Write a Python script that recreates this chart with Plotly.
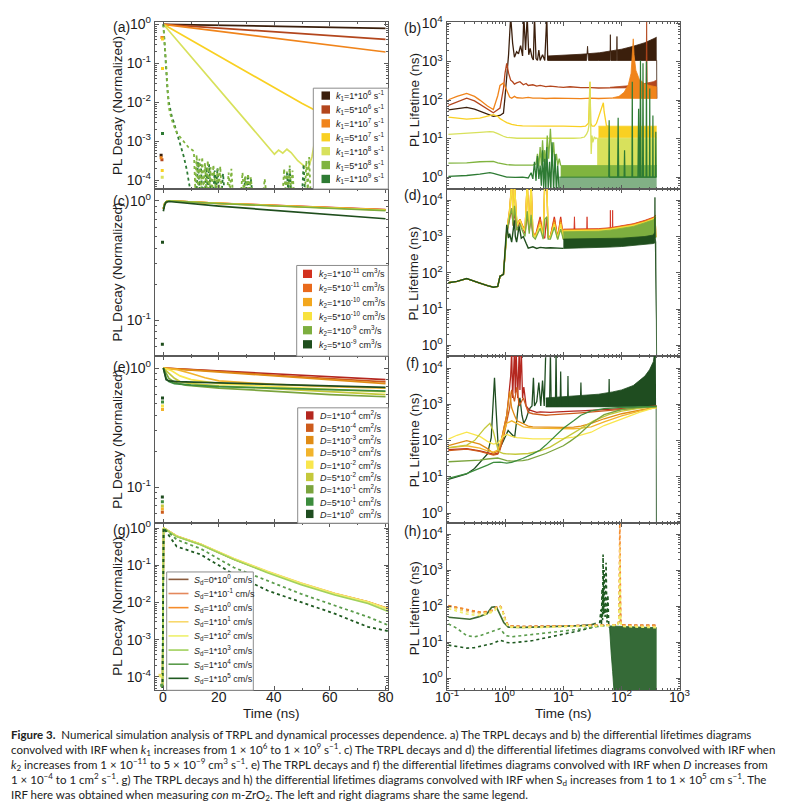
import math
import plotly.graph_objects as go

# Reference-picture coordinates are used for layout; the page body has an 8 px margin,
# so the figure is 788x796 and every position is shifted by that margin.
PAGE_W, PAGE_H = 804, 812
OFF = 8
FIG_W, FIG_H = PAGE_W - 2 * OFF, PAGE_H - 2 * OFF
FONT = "Liberation Sans, Arial, sans-serif"
CAPTION_FONT = "Lato, Liberation Sans, sans-serif"
AXIS_COLOR = "#5a5a5a"
TEXT_COLOR = "#1b1b1b"

# ---------------- tick labels ----------------
X_LEFT_TICKS = [0, 20, 40, 60, 80]
X_LEFT_TICKTEXT = ["0", "20", "40", "60", "80"]
X_RIGHT_TICKS = [0.1, 1, 10, 100, 1000]
X_RIGHT_TICKTEXT = ["10<sup>-1</sup>", "10<sup>0</sup>", "10<sup>1</sup>", "10<sup>2</sup>", "10<sup>3</sup>"]
Y_WIDE_TICKS = [1e-4, 1e-3, 1e-2, 1e-1, 1]
Y_WIDE_TICKTEXT = ["10<sup>-4</sup>", "10<sup>-3</sup>", "10<sup>-2</sup>", "10<sup>-1</sup>", "10<sup>0</sup>"]
Y_NARROW_TICKS = [0.1, 1]
Y_NARROW_TICKTEXT = ["10<sup>-1</sup>", "10<sup>0</sup>"]
Y_LIFE_TICKS = [1, 10, 100, 1000, 10000]
Y_LIFE_TICKTEXT = ["10<sup>0</sup>", "10<sup>1</sup>", "10<sup>2</sup>", "10<sup>3</sup>", "10<sup>4</sup>"]

PANEL_LABELS = ["(a)", "(b)", "(c)", "(d)", "(e)", "(f)", "(g)", "(h)"]
LEFT_TITLE = "PL Decay (Normalized)"
RIGHT_TITLE = "PL Lifetime (ns)"
X_TITLE = "Time (ns)"

# ---------------- legends ----------------
A_LABELS = ["<i>k</i><sub>1</sub>=1*10<sup>6</sup> s<sup>-1</sup>", "<i>k</i><sub>1</sub>=5*10<sup>6</sup> s<sup>-1</sup>",
            "<i>k</i><sub>1</sub>=1*10<sup>7</sup> s<sup>-1</sup>", "<i>k</i><sub>1</sub>=5*10<sup>7</sup> s<sup>-1</sup>",
            "<i>k</i><sub>1</sub>=1*10<sup>8</sup> s<sup>-1</sup>", "<i>k</i><sub>1</sub>=5*10<sup>8</sup> s<sup>-1</sup>",
            "<i>k</i><sub>1</sub>=1*10<sup>9</sup> s<sup>-1</sup>"]
A_COLORS = ["#3b1f0c", "#b3461d", "#f0841b", "#f9d022", "#d8e15c", "#80b43f", "#2e7b34"]
C_LABELS = ["<i>k</i><sub>2</sub>=1*10<sup>-11</sup> cm<sup>3</sup>/s", "<i>k</i><sub>2</sub>=5*10<sup>-11</sup> cm<sup>3</sup>/s",
            "<i>k</i><sub>2</sub>=1*10<sup>-10</sup> cm<sup>3</sup>/s", "<i>k</i><sub>2</sub>=5*10<sup>-10</sup> cm<sup>3</sup>/s",
            "<i>k</i><sub>2</sub>=1*10<sup>-9</sup> cm<sup>3</sup>/s", "<i>k</i><sub>2</sub>=5*10<sup>-9</sup> cm<sup>3</sup>/s"]
C_COLORS = ["#d3311f", "#e96a1c", "#f3a71d", "#f8e23e", "#7dae3f", "#1f4e1d"]
E_LABELS = ["<i>D</i>=1*10<sup>-4</sup> cm<sup>2</sup>/s", "<i>D</i>=5*10<sup>-4</sup> cm<sup>2</sup>/s",
            "<i>D</i>=1*10<sup>-3</sup> cm<sup>2</sup>/s", "<i>D</i>=5*10<sup>-3</sup> cm<sup>2</sup>/s",
            "<i>D</i>=1*10<sup>-2</sup> cm<sup>2</sup>/s", "<i>D</i>=5*10<sup>-2</sup> cm<sup>2</sup>/s",
            "<i>D</i>=1*10<sup>-1</sup> cm<sup>2</sup>/s", "<i>D</i>=5*10<sup>-1</sup> cm<sup>2</sup>/s",
            "<i>D</i>=1*10<sup>0</sup>  cm<sup>2</sup>/s"]
E_COLORS = ["#b4271f", "#cd5b1c", "#e08c15", "#f2b42c", "#f9e64d", "#c4c83b", "#7ba43d", "#3c8c3d", "#1f4d20"]
G_LABELS = ["<i>S</i><sub>d</sub>=0*10<sup>0</sup> cm/s", "<i>S</i><sub>d</sub>=1*10<sup>-1</sup> cm/s",
            "<i>S</i><sub>d</sub>=1*10<sup>0</sup> cm/s", "<i>S</i><sub>d</sub>=1*10<sup>1</sup> cm/s",
            "<i>S</i><sub>d</sub>=1*10<sup>2</sup> cm/s", "<i>S</i><sub>d</sub>=1*10<sup>3</sup> cm/s",
            "<i>S</i><sub>d</sub>=1*10<sup>4</sup> cm/s", "<i>S</i><sub>d</sub>=1*10<sup>5</sup> cm/s"]
G_COLORS = ["#8b5b3d", "#e4885c", "#f58c2b", "#f8d86b", "#eef06c", "#a1d15c", "#5b9c4c", "#1f5a21"]
H_SOLID_COLOR = "#3e6a33"

# ---------------- panel (a) : TRPL vs k1 ----------------
A_T_0 = [0, 20, 40, 60, 80]
A_Y_0 = [1.0, 0.944, 0.89, 0.84, 0.79]
A_T_1 = [0, 20, 40, 60, 80]
A_Y_1 = [1.0, 0.80, 0.64, 0.51, 0.41]
A_T_2 = [0, 20, 40, 60, 80]
A_Y_2 = [1.0, 0.66, 0.44, 0.29, 0.195]
A_T_3 = [0, 10, 20, 30, 40, 50, 60, 70, 80]
A_Y_3 = [1.0, 0.39, 0.151, 0.059, 0.0234, 0.0093, 0.004, 0.002, 0.00112]
A_T_4 = [0, 10, 20, 30, 40, 41.5, 43, 44.5, 46, 48.4, 52, 53.5, 54.5]
A_Y_4 = [1.0, 0.148, 0.0219, 0.00316, 4.7e-4, 6.0e-4, 5.0e-4, 6.3e-4, 5.2e-4, 3.2e-4, 1.95e-4, 4.0e-4, 1.02e-3]
A_T_5 = [0, 0.5, 1.0, 1.5, 1.9, 2.5, 3.5, 5, 7.4, 9, 11,
         11.5, 12, 12.5, 13, 13.5, 14, 14.5, 15, 15.5, 16,
         16.5, 17, 17.5, 18, 19, 19.5, 20, 20.5, 21, 22,
         23, 23.5, 24, 24.5, 25, 27, 28, 28.5, 29, 29.5,
         30, 30.5, 31, 31.5, 32, 33, 35, 36, 36.5, 37,
         40, 43, 43.5, 44, 44.5, 45, 45.5, 46, 46.5, 47,
         48, 49, 50, 51, 51.5, 52, 52.5, 53, 54]
A_Y_5 = [1.0, 0.4, 0.1, 0.025, 0.0079, 0.005, 0.0028, 0.0016, 0.001, 7.1e-4, 5.6e-4,
         6e-5, 4.5e-4, 6e-5, 3.6e-4, 6e-5, 4e-4, 5e-5, 2.8e-4, 5e-5, 3.2e-4,
         5e-5, 2.2e-4, 5e-5, 2.5e-4, 5e-5, 2.0e-4, 5e-5, 2.3e-4, 5e-5, 5e-5,
         5e-5, 1.6e-4, 5e-5, 2.0e-4, 5e-5, 5e-5, 5e-5, 1.6e-4, 5e-5, 1.3e-4,
         5e-5, 1.5e-4, 5e-5, 1.2e-4, 5e-5, 5e-5, 5e-5, 5e-5, 1.1e-4, 5e-5,
         5e-5, 5e-5, 2.0e-4, 5e-5, 1.7e-4, 5e-5, 2.4e-4, 5e-5, 1.8e-4, 5e-5,
         5e-5, 5e-5, 5e-5, 5e-5, 3.2e-4, 5e-5, 4e-4, 5e-5, 5e-5]
A_T_6 = [0, 0.5, 1, 1.5, 2, 2.5, 3, 3.7, 5, 6, 7.4, 8.5, 9.8,
         12, 12.5, 13, 13.5, 14, 15, 15.5, 16, 16.5, 17,
         18, 18.5, 19, 19.5, 20, 21, 21.5, 22, 25, 29,
         29.5, 30, 30.5, 31, 31.5, 32, 34, 38, 44, 44.5,
         45, 45.5, 46, 47, 48, 50, 50.5, 51, 52]
A_Y_6 = [1.0, 0.25, 0.063, 0.02, 0.01, 0.0063, 0.0045, 0.0032, 0.0016, 8.9e-4, 4e-4, 1.8e-4, 5e-5,
         5e-5, 3.0e-4, 5e-5, 2.6e-4, 5e-5, 5e-5, 2.2e-4, 5e-5, 2.6e-4, 5e-5,
         5e-5, 1.8e-4, 5e-5, 2.1e-4, 5e-5, 5e-5, 1.5e-4, 5e-5, 5e-5, 5e-5,
         1.2e-4, 5e-5, 1.4e-4, 5e-5, 1.1e-4, 5e-5, 5e-5, 5e-5, 5e-5, 1.6e-4,
         5e-5, 2.0e-4, 5e-5, 5e-5, 5e-5, 5e-5, 2.6e-4, 5e-5, 5e-5]
A_PRE_T = [-0.8, -0.5, -0.8, -0.5, -0.3, -0.3, -0.4, -0.4, -0.3]
A_PRE_Y = [4.4e-4, 3.4e-4, 3.8e-4, 0.46, 0.42, 0.074, 1.8e-4, 1.2e-4, 1.6e-3]
A_PRE_C = [0, 1, 2, 2, 3, 3, 3, 4, 6]

# ---------------- panel (b) : lifetime vs k1 ----------------
B_X_0 = [0.107, 0.15, 0.22, 0.3, 0.37, 0.5, 0.63, 0.82, 0.94, 1.0, 1.07, 1.15, 1.25, 1.35, 1.45, 1.58, 1.7, 1.85,
         2.0, 2.1, 2.25, 2.4, 2.55, 2.7, 2.9, 3.06, 3.2, 3.4, 3.6, 3.8, 4.0, 4.4, 4.8, 5.0, 5.2, 5.4]
B_Y_0 = [56, 60, 65, 58, 52, 44, 38, 40, 46, 120, 400, 1500, 15000, 3000, 1300, 1800, 1600, 2600,
         1400, 15000, 2000, 15000, 1500, 2200, 1300, 1100, 15000, 1200, 1070, 2000, 1070, 1500, 1070, 15000, 15000, 1070]
B_XL_0 = [5.4, 20, 25, 26, 27, 40, 63, 64, 65, 82, 83, 84, 200, 398, 400]
B_YL_0 = [1070, 1070, 1070, 2500, 1070, 1070, 1070, 5000, 1070, 1070, 4500, 1070, 1070, 1070, 110]
B_XU_0 = [5.4, 10, 20, 42, 63, 100, 158, 250, 349, 398]
B_YU_0 = [1400, 1450, 1550, 1700, 1850, 2100, 2500, 3100, 3900, 4300]

B_X_1 = [0.107, 0.15, 0.22, 0.3, 0.37, 0.5, 0.63, 0.82, 0.94, 1.0, 1.07, 1.15, 1.25, 1.35, 1.45, 1.58,
         1.8, 2.06, 2.3, 2.5, 3.0, 3.5, 4.0, 5.0, 6.0, 8.0, 10, 13, 20, 30, 40, 63]
B_Y_1 = [73, 90, 112, 95, 78, 58, 47, 62, 200, 500, 900, 500, 330, 300, 260, 280,
         300, 250, 270, 240, 250, 230, 240, 225, 230, 220, 215, 222, 210, 212, 206, 208]
B_XL_1 = [63, 200, 262, 268, 274, 398, 400]
B_YL_1 = [206, 206, 210, 15000, 215, 220, 110]
B_XU_1 = [63, 150, 250, 349, 398]
B_YU_1 = [215, 240, 270, 300, 330]

B_X_2 = [0.107, 0.15, 0.22, 0.3, 0.37, 0.5, 0.63, 0.75, 0.82, 0.94, 1.07, 1.2, 1.3, 1.45,
         1.6, 2.0, 2.5, 3.0, 4.0, 5.0, 7.0, 10, 15, 20, 30, 40, 63, 70]
B_Y_2 = [102, 125, 150, 125, 100, 70, 57, 130, 240, 280, 180, 120, 112, 125,
         115, 112, 118, 112, 113, 110, 112, 110, 111, 109, 112, 110, 112, 112]
B_XL_2 = [70, 398, 400]
B_YL_2 = [112, 112, 110]
B_XU_2 = [70, 90, 110, 130, 145, 152, 158, 163, 175, 200, 250, 300, 349, 398]
B_YU_2 = [115, 125, 160, 250, 500, 1200, 3900, 1500, 600, 350, 260, 240, 230, 220]

B_X_3 = [0.107, 0.15, 0.22, 0.37, 0.5, 0.63, 0.75, 0.82, 0.94, 1.07, 1.3, 1.6, 2.0, 3.0, 5.0, 10, 15,
         20, 24, 27, 28.6, 29.5, 31, 34, 37, 40, 43, 46, 48.5, 50, 52, 55, 60]
B_Y_3 = [36, 34, 32, 34, 38, 42, 38, 33, 29, 26, 23.5, 22, 21.5, 21, 21, 21, 20.5,
         20.5, 21, 25, 300, 25, 21, 21, 25, 35, 45, 60, 85, 50, 30, 21, 21]
B_XL_3 = [40, 398]
B_YL_3 = [10.5, 10.5]
B_XU_3 = [40, 398]
B_YU_3 = [21, 21]

B_X_4 = [0.107, 0.15, 0.22, 0.37, 0.55, 0.63, 0.75, 0.82, 0.94, 1.07, 1.3, 1.6, 2, 3, 5,
         10, 15, 20, 23, 25, 26.5, 27.5, 28.6, 29.2, 30, 31, 32, 34, 36, 38]
B_Y_4 = [12.9, 13.2, 13.5, 14.5, 15.2, 15, 13.5, 12.5, 11.5, 10.8, 10.4, 10.2, 10.2, 10.1, 10.1,
         10.2, 10.2, 10.4, 11, 13, 16, 22, 300, 15, 4, 12, 8, 11, 10, 10.5]
B_XL_4 = [38, 398]
B_YL_4 = [2.0, 2.0]
B_XU_4 = [38, 398]
B_YU_4 = [10.2, 10.2]

B_X_5 = [0.107, 0.15, 0.22, 0.37, 0.55, 0.63, 0.75, 0.94, 1.07, 1.5, 2, 3, 3.4, 3.6, 3.8, 4.0,
         4.2, 4.4, 4.6, 4.8, 5.0, 5.3, 5.6, 6.0, 6.4, 6.8, 7.2, 7.6, 8.0, 8.5, 9.0]
B_Y_5 = [2.3, 2.3, 2.35, 2.5, 2.6, 2.55, 2.35, 2.15, 2.1, 2.05, 2.05, 2.05, 2.2, 4, 1.9, 6,
         2.0, 9, 2.5, 5, 2.0, 12, 3, 18, 2.5, 8, 2.2, 4, 2.0, 3, 2.0]
B_XL_5 = [9, 398]
B_YL_5 = [1.0, 1.0]
B_XU_5 = [9, 398]
B_YU_5 = [2.0, 2.0]

B_X_6 = [0.107, 0.15, 0.22, 0.37, 0.55, 0.63, 0.75, 0.94, 1.07, 1.5, 2.0, 2.5, 2.8, 3.0, 3.2, 3.4, 3.6,
         3.8, 4.0, 4.2, 4.4, 4.6, 4.8, 5.0, 5.2, 5.5, 5.8, 6.1, 6.4, 6.8, 7.2, 7.6, 8.0, 8.5]
B_Y_6 = [1.04, 1.05, 1.1, 1.2, 1.3, 1.25, 1.15, 1.05, 1.0, 0.98, 1.0, 0.95, 1.3, 0.9, 2.5, 0.8, 3.5,
         0.9, 2.0, 0.6, 5, 0.5, 3, 0.45, 6, 0.5, 2.5, 0.4, 8, 0.45, 4, 0.4, 2.0, 0.4]
B_XL_6 = [8.5, 398]
B_YL_6 = [0.4, 0.4]
B_XU_6 = [8.5, 398]
B_YU_6 = [1.0, 1.0]
B_XS_6 = [60, 61, 62, 85, 87, 89, 110, 112, 114, 150, 152, 154, 190, 195, 200, 205, 210, 215,
          228, 232, 236, 262, 266, 270, 300, 303, 306, 340, 343, 346, 380, 385, 390]
B_YS_6 = [1.0, 30, 1.0, 1.0, 35, 1.0, 1.0, 5, 1.0, 1.0, 300, 1.0, 1.0, 60, 1.0, 1.0, 1070, 1.0,
          1.0, 900, 1.0, 1.0, 1000, 1.0, 1.0, 200, 1.0, 1.0, 40, 1.0, 1.0, 15, 1.0]

# ---------------- panel (c) : TRPL vs k2 ----------------
C_T = [0, 0.5, 1, 2, 20, 40, 60, 80]
C_Y_0 = [0.86, 0.95, 0.985, 1.0, 0.957, 0.918, 0.88, 0.845]
C_Y_1 = [0.86, 0.95, 0.985, 1.0, 0.956, 0.916, 0.878, 0.842]
C_Y_2 = [0.86, 0.95, 0.985, 1.0, 0.955, 0.914, 0.876, 0.84]
C_Y_3 = [0.86, 0.95, 0.985, 1.0, 0.954, 0.912, 0.873, 0.837]
C_Y_4 = [0.86, 0.95, 0.985, 1.0, 0.952, 0.908, 0.868, 0.83]
C_Y_5 = [0.82, 0.93, 0.975, 0.99, 0.905, 0.835, 0.77, 0.71]
C_PRE_T = [-0.3, -0.35]
C_PRE_Y = [0.45, 0.063]
C_PRE_C = [5, 5]

# ---------------- panel (d) : lifetime vs k2 ----------------
D_T_EARLY = [0.107, 0.15, 0.22, 0.3, 0.37, 0.5, 0.63, 0.75, 0.82, 0.94]
D_Y_EARLY = [53, 58, 69, 60, 52, 44, 40, 42, 80, 90]
D_T_MID = [1.07, 1.2, 1.3, 1.38, 1.45, 1.6, 1.8, 2.0, 2.2, 2.4, 2.6, 2.8, 3.0, 3.3, 3.6, 4.0, 4.5, 4.8,
           5.2, 5.5, 6, 7, 8, 9, 10]
D_Y_0 = [1200, 3000, 6000, 2000, 5000, 1500, 2500, 1800, 1200, 4000, 1500, 3000, 1200, 1000, 1800, 3500, 1000, 900,
         3500, 900, 1000, 3500, 900, 3500, 900]
D_Y_1 = [1500, 5000, 30000, 3000, 30000, 2000, 3000, 2000, 1500, 30000, 2000, 30000, 1400, 1000, 1500, 3000, 1000, 30000,
         30000, 1000, 1000, 3000, 900, 3000, 900]
D_Y_2 = [1400, 6000, 30000, 3000, 30000, 2200, 3000, 1800, 1500, 30000, 1800, 30000, 1300, 1000, 1500, 2500, 1000, 30000,
         30000, 1000, 1000, 2500, 900, 2500, 900]
D_Y_3 = [1300, 5000, 30000, 2500, 30000, 2000, 2800, 1800, 1400, 30000, 1700, 30000, 1200, 950, 1400, 2200, 950, 30000,
         30000, 950, 950, 2200, 880, 2200, 880]
D_Y_4 = [1100, 3500, 6000, 2000, 7000, 1500, 2200, 1400, 1000, 5000, 1200, 4000, 1000, 850, 1200, 1700, 850, 3000,
         3500, 850, 850, 1800, 820, 1600, 820]
D_T_5 = [1.07, 1.15, 1.2, 1.3, 1.4, 1.45, 1.5, 1.58, 1.7, 1.75, 1.9, 2.06, 2.3, 2.5, 3.0, 3.5, 4.0, 5.0, 6.0, 8.0, 10]
D_Y_5 = [2100, 900, 1200, 700, 1500, 2800, 1000, 700, 1500, 1900, 900, 1000, 650, 480, 520, 470, 500, 480, 490, 480, 470]
D_T_LOW_0 = [10, 15, 15.5, 16, 25, 25.5, 26, 40, 63, 64, 65, 69, 70, 71, 200, 380, 392]
D_Y_LOW_0 = [900, 900, 3500, 900, 900, 3500, 900, 900, 900, 5300, 900, 900, 5300, 900, 950, 1000, 1000]
D_T_LOW = [10, 100, 200, 380, 392]
D_Y_LOW_1 = [900, 920, 950, 1000, 1000]
D_Y_LOW_2 = [900, 920, 950, 1000, 1000]
D_Y_LOW_3 = [880, 900, 930, 980, 980]
D_Y_LOW_4 = [820, 840, 870, 920, 920]
D_T_UP = [10, 20, 40, 63, 100, 158, 250, 349, 385]
D_Y_UP_0 = [1600, 1600, 1650, 1750, 1950, 2250, 2800, 3400, 3900]
D_Y_UP_1 = [1550, 1550, 1600, 1700, 1900, 2200, 2700, 3300, 3800]
D_Y_UP_2 = [1500, 1500, 1550, 1650, 1850, 2100, 2600, 3200, 3700]
D_Y_UP_3 = [1450, 1450, 1500, 1600, 1800, 2050, 2500, 3100, 3600]
D_Y_UP_4 = [1350, 1350, 1400, 1500, 1650, 1900, 2400, 2900, 3400]
D_T_LOW_5 = [10, 20, 40, 63, 100, 158, 250, 349, 368, 372, 376, 385, 393, 398]
D_Y_LOW_5 = [470, 480, 500, 510, 530, 560, 600, 640, 660, 12000, 900, 700, 0.3, 0.3]
D_T_UP_5 = [10, 100, 250, 349, 368]
D_Y_UP_5 = [850, 900, 1000, 1100, 1300]

# ---------------- panel (e) : TRPL vs D ----------------
E_T_0 = [0, 20, 40, 60, 80]
E_Y_0 = [1.0, 0.945, 0.895, 0.845, 0.80]
E_T_1 = [0, 20, 40, 60, 80]
E_Y_1 = [1.0, 0.94, 0.87, 0.82, 0.765]
E_T_2 = [0, 20, 40, 60, 80]
E_Y_2 = [1.0, 0.93, 0.86, 0.80, 0.74]
E_T_3 = [0, 5, 10, 15, 20, 30, 40, 60, 80]
E_Y_3 = [1.0, 0.97, 0.9, 0.83, 0.78, 0.75, 0.73, 0.70, 0.68]
E_T_4 = [0, 3, 6, 10, 15, 20, 40, 60, 80]
E_Y_4 = [1.0, 0.95, 0.86, 0.8, 0.77, 0.74, 0.70, 0.66, 0.63]
E_T_5 = [0, 2, 4, 6, 10, 20, 40, 60, 80]
E_Y_5 = [1.0, 0.9, 0.82, 0.77, 0.74, 0.71, 0.67, 0.63, 0.60]
E_T_6 = [0, 1, 2, 4, 8, 20, 40, 60, 80]
E_Y_6 = [1.0, 0.9, 0.82, 0.76, 0.72, 0.68, 0.64, 0.60, 0.575]
E_T_7 = [0, 0.5, 1, 2, 4, 10, 20, 40, 60, 80]
E_Y_7 = [1.0, 0.9, 0.82, 0.77, 0.74, 0.72, 0.70, 0.68, 0.66, 0.64]
E_T_8 = [0, 0.5, 1, 2, 5, 20, 40, 60, 80]
E_Y_8 = [1.0, 0.88, 0.8, 0.78, 0.77, 0.75, 0.73, 0.71, 0.69]
E_PRE_T = [-0.3, -0.3, -0.3, -0.3, -0.35, -0.35, -0.35, -0.35, -0.35]
E_PRE_Y = [0.56, 0.52, 0.48, 0.45, 0.083, 0.076, 0.07, 0.066, 0.062]
E_PRE_C = [8, 7, 4, 3, 8, 7, 5, 3, 1]

# ---------------- panel (f) : lifetime vs D ----------------
F_X_0 = [0.107, 0.15, 0.22, 0.37, 0.5, 0.63, 0.75, 0.82, 0.94, 1.07, 1.15, 1.25, 1.3, 1.35, 1.45, 1.5, 1.55, 1.65,
         1.75, 1.8, 1.9, 2.0, 2.1, 2.3, 2.6, 3.0, 3.5, 4.0, 5.0, 6.0, 8.0, 10, 15, 20, 30, 50, 100, 200, 349, 398]
F_Y_0 = [56, 58, 60, 52, 46, 42, 44, 60, 190, 500, 1500, 6000, 30000, 1500, 30000, 2000, 30000, 1500,
         30000, 2500, 30000, 1500, 3000, 900, 700, 650, 600, 620, 610, 600, 620, 640, 650, 660, 680, 720, 760, 820, 880, 900]
F_X_1 = [0.107, 0.15, 0.22, 0.37, 0.5, 0.63, 0.75, 0.82, 0.94, 1.07, 1.2, 1.3, 1.45, 1.6, 1.75, 2.06, 2.5, 3.0,
         4.0, 5.0, 6, 8, 10, 15, 20, 30, 50, 100, 200, 349, 398]
F_Y_1 = [53, 56, 58, 50, 45, 40, 42, 55, 120, 300, 800, 2500, 1200, 3000, 900, 1500, 600, 550,
         520, 500, 510, 520, 540, 560, 580, 610, 650, 720, 800, 860, 880]
F_X_2 = [0.107, 0.15, 0.22, 0.37, 0.5, 0.63, 0.75, 0.82, 0.94, 1.07, 1.2, 1.3, 1.45, 1.6, 2.0, 2.5, 3.0, 4.0,
         6.0, 10, 15, 20, 30, 50, 100, 200, 349, 398]
F_Y_2 = [73, 85, 100, 80, 60, 45, 50, 70, 200, 500, 2300, 800, 500, 350, 300, 250, 240, 235,
         230, 230, 235, 250, 300, 400, 550, 700, 830, 850]
F_X_3 = [0.107, 0.15, 0.22, 0.37, 0.5, 0.63, 0.75, 0.82, 0.94, 1.07, 1.3, 1.6, 2.06, 3.0, 5.0, 10, 15, 20,
         30, 50, 100, 200, 349, 398]
F_Y_3 = [63, 68, 72, 62, 52, 48, 55, 80, 160, 300, 350, 300, 240, 220, 215, 210, 212, 220,
         240, 330, 480, 650, 800, 820]
F_X_4 = [0.107, 0.15, 0.22, 0.37, 0.5, 0.63, 0.75, 0.82, 0.94, 1.07, 1.3, 1.6, 2.06, 3.0, 5.0, 10, 15, 20,
         30, 50, 100, 200, 349, 398]
F_Y_4 = [110, 140, 170, 130, 95, 80, 85, 100, 130, 150, 130, 120, 115, 112, 112, 115, 125, 140,
         170, 260, 400, 600, 780, 800]
F_X_5 = [0.107, 0.15, 0.22, 0.3, 0.37, 0.45, 0.55, 0.63, 0.7, 0.75, 0.82, 0.94, 1.07, 1.5, 2.5, 4.0, 5.9,
         10, 17, 33, 60, 100, 200, 349, 398]
F_Y_5 = [64, 68, 75, 100, 150, 220, 300, 180, 90, 60, 48, 44, 43, 42, 44, 52, 66,
         110, 190, 350, 520, 650, 780, 850, 860]
F_X_6 = [0.107, 0.15, 0.22, 0.37, 0.5, 0.63, 0.75, 0.82, 0.94, 1.07, 1.3, 1.6, 2.0, 2.5, 3.0, 4.0, 5.0, 6.0,
         8.0, 10, 13, 17, 22, 30, 50, 100, 200, 398]
F_Y_6 = [26, 26.5, 27, 29, 31, 33, 33, 32, 30, 28, 27, 27, 28, 30, 33, 38, 44, 50,
         60, 72, 95, 130, 190, 300, 520, 720, 830, 870]
F_X_7 = [0.107, 0.15, 0.22, 0.3, 0.37, 0.5, 0.63, 0.75, 0.82, 0.94, 1.07, 1.3, 1.6, 2.0, 3.0, 4.0, 5.0, 6.0,
         8.0, 10, 15, 20, 30, 50, 100, 200, 398]
F_Y_7 = [9, 10.5, 12.3, 15, 17, 21, 25, 26, 25.5, 24.5, 24, 25, 28, 32, 43, 55, 75, 100,
         150, 220, 350, 500, 660, 760, 820, 850, 870]
F_X_8 = [0.107, 0.15, 0.22, 0.3, 0.42, 0.5, 0.58, 0.63, 0.66, 0.7, 0.77, 0.85, 0.94, 1.05, 1.13, 1.3, 1.46,
         1.6, 1.67, 1.8, 1.95, 2.1, 2.3, 2.5, 2.7, 2.9, 3.07, 3.2, 3.5, 3.8, 4.1, 4.4, 4.7, 5.0]
F_Y_8 = [8.5, 10, 12, 17, 30, 43, 120, 1000, 5400, 800, 53, 70, 100, 150, 190, 150, 123,
         400, 810, 1500, 500, 300, 400, 600, 800, 900, 5400, 900, 1200, 4000, 900, 4500, 900, 30000]
F_XL_8 = [5.0, 10, 50, 100, 200, 380, 390, 394, 398]
F_YL_8 = [850, 850, 850, 850, 860, 900, 900, 0.3, 0.3]
F_XU_8 = [5.0, 10, 20, 40, 70, 100, 158, 250, 300, 349, 370, 385]
F_YU_8 = [1500, 1600, 1700, 1900, 2200, 2500, 3300, 6000, 9000, 15000, 30000, 30000]
F_XS_8 = [5.8, 6.0, 6.2, 7.3, 7.5, 7.7, 8.8, 9.0, 9.2, 11.8, 12.0, 12.2, 19.5, 20.0, 20.5, 60, 61, 62]
F_YS_8 = [900, 30000, 900, 900, 30000, 900, 900, 8000, 900, 900, 6000, 900, 900, 4000, 900, 900, 5000, 900]

# ---------------- panel (g) : TRPL vs Sd ----------------
G_T = [-0.3, 0, 0.1, 4.8, 13.4, 25.4, 37.5, 49.6, 61.7, 73.7, 81]
G_Y_0 = [5e-5, 0.9, 1.0, 0.6, 0.365, 0.146, 0.066, 0.032, 0.0172, 0.0103, 0.0067]
G_Y_1 = [5e-5, 0.9, 1.0, 0.6, 0.364, 0.146, 0.066, 0.032, 0.0171, 0.0103, 0.0067]
G_Y_2 = [5e-5, 0.9, 1.0, 0.61, 0.368, 0.148, 0.067, 0.033, 0.0175, 0.0105, 0.0069]
G_Y_3 = [5e-5, 0.9, 1.0, 0.61, 0.372, 0.152, 0.069, 0.0335, 0.0176, 0.0105, 0.0068]
G_Y_4 = [5e-5, 0.9, 1.0, 0.6, 0.365, 0.15, 0.067, 0.0325, 0.017, 0.0101, 0.0065]
G_Y_5 = [5e-5, 0.9, 1.0, 0.59, 0.355, 0.142, 0.063, 0.030, 0.0158, 0.0094, 0.0057]
G_Y_6 = [5e-5, 0.9, 1.0, 0.49, 0.28, 0.087, 0.038, 0.017, 0.0083, 0.0041, 0.00245]
G_Y_7 = [5e-5, 0.9, 1.0, 0.32, 0.195, 0.057, 0.021, 0.0102, 0.005, 0.0022, 0.0017]
G_PRE_T = [-1.2, -0.9, -0.6]
G_PRE_Y = [1.1e-4, 1.05e-4, 6e-5]
G_PRE_C = [3, 4, 6]

# ---------------- panel (h) : lifetime vs Sd ----------------
H_X_A = [0.107, 0.15, 0.22, 0.3, 0.37, 0.5, 0.63, 0.72, 0.82, 0.9, 1.0, 1.14, 1.5, 2, 5, 10, 20, 40, 60,
         85, 90, 93, 96, 100, 200, 398]
H_Y_0 = [100, 90, 78, 70, 66, 68, 76, 93, 100, 78, 44, 28, 27, 27, 27.5, 28, 29, 30, 30,
         30, 35, 300, 35, 30, 29, 29]
H_Y_1 = [101, 91, 79, 71, 67, 69, 77, 94, 101, 79, 44, 28, 27, 27, 27.5, 28, 29, 30, 30,
         30, 38, 2000, 38, 30, 29, 29]
H_Y_2 = [103, 92, 80, 72, 68, 70, 78, 95, 103, 80, 45, 28, 27, 27, 27.5, 28, 29, 30, 30,
         30, 40, 30000, 40, 30, 29, 29]
H_Y_3 = [95, 82, 70, 64, 62, 65, 75, 90, 98, 76, 42, 27, 26, 26, 26.5, 27, 28, 29, 29.5,
         30, 38, 5000, 38, 28, 27.5, 27]
H_Y_4 = [85, 72, 60, 56, 55, 60, 70, 85, 93, 72, 40, 26, 25, 25, 25.5, 26, 27, 28, 28.5,
         29, 35, 1500, 35, 27, 26, 25]
H_X_5 = [0.107, 0.15, 0.25, 0.35, 0.49, 0.59, 0.66, 0.72, 0.82, 0.95, 1.14, 1.5, 2, 3, 5, 10, 20, 30, 36]
H_Y_5 = [49, 47, 43, 50, 61, 93, 95, 90, 55, 35, 26, 25.5, 25.5, 26, 26.5, 27.5, 28.5, 30, 33]
H_X_6 = [0.107, 0.15, 0.22, 0.3, 0.37, 0.5, 0.63, 0.75, 0.82, 0.94, 1.07, 1.3, 1.6, 2, 3, 5, 8, 12,
         20, 30, 40, 50, 60]
H_Y_6 = [32, 24, 15, 14, 15, 18, 21, 22.5, 23.5, 18, 15, 14, 14.5, 15, 16, 17.5, 19, 21,
         23, 25.5, 27.5, 28.5, 29]
H_X_7 = [0.107, 0.15, 0.22, 0.3, 0.37, 0.5, 0.63, 0.75, 0.82, 0.94, 1.07, 1.3, 1.6, 2, 3, 5, 8, 12, 20, 30,
         38, 42, 44, 45, 46, 47, 48, 49, 50, 52, 54, 56, 58, 60, 62]
H_Y_7 = [8.2, 7.5, 6.8, 7.0, 7.5, 8.3, 9.2, 10.5, 11.3, 10.5, 9.7, 9.5, 9.7, 10.2, 11, 13, 15.5, 18, 21, 25,
         28, 35, 80, 30, 300, 40, 2700, 60, 1000, 50, 1600, 35, 200, 30, 25]
H_XL_7 = [62, 63, 66, 70, 75, 398]
H_YL_7 = [25, 12, 5, 1.5, 0.3, 0.3]
H_XU_7 = [62, 100, 200, 398]
H_YU_7 = [28, 27, 26, 25]

CAPTION_LINES = [
    "<b>Figure 3.</b>  Numerical simulation analysis of TRPL and dynamical processes dependence. a) The TRPL decays and b) the differential lifetimes diagrams",
    "convolved with IRF when <i>k</i><sub>1</sub> increases from 1 × 10<sup>6</sup> to 1 × 10<sup>9</sup> s<sup>−1</sup>. c) The TRPL decays and d) the differential lifetimes diagrams convolved with IRF when",
    "<i>k</i><sub>2</sub> increases from 1 × 10<sup>−11</sup> to 5 × 10<sup>−9</sup> cm<sup>3</sup> s<sup>−1</sup>. e) The TRPL decays and f) the differential lifetimes diagrams convolved with IRF when <i>D</i> increases from",
    "1 × 10<sup>−4</sup> to 1 cm<sup>2</sup> s<sup>−1</sup>. g) The TRPL decays and h) the differential lifetimes diagrams convolved with IRF when S<sub>d</sub> increases from 1 to 1 × 10<sup>5</sup> cm s<sup>−1</sup>. The",
    "IRF here was obtained when measuring <i>con</i> m-ZrO<sub>2</sub>. The left and right diagrams share the same legend.",
]

# =====================================================================
fig = go.Figure()


def ids(p):
    return ("x" if p == 1 else "x%d" % p), ("y" if p == 1 else "y%d" % p)


def rgba(hexcolor, a):
    h = hexcolor.lstrip("#")
    return "rgba(%d,%d,%d,%.2f)" % (int(h[0:2], 16), int(h[2:4], 16), int(h[4:6], 16), a)


def add_line(p, x, y, color, width=1.5, dash="solid"):
    xa, ya = ids(p)
    fig.add_trace(go.Scatter(x=x, y=y, mode="lines", xaxis=xa, yaxis=ya,
                             line=dict(color=color, width=width, dash=dash),
                             showlegend=False, hoverinfo="skip"))


def add_band(p, xl, yl, xu, yu, color, alpha=1.0, width=0.8):
    xa, ya = ids(p)
    fig.add_trace(go.Scatter(x=xl, y=yl, mode="lines", xaxis=xa, yaxis=ya,
                             line=dict(color=color, width=width), showlegend=False, hoverinfo="skip"))
    fig.add_trace(go.Scatter(x=xu, y=yu, mode="lines", xaxis=xa, yaxis=ya,
                             line=dict(color=color, width=width), fill="tonexty",
                             fillcolor=rgba(color, alpha), showlegend=False, hoverinfo="skip"))


def add_dots(p, x, y, colors, size=3):
    xa, ya = ids(p)
    fig.add_trace(go.Scatter(x=x, y=y, mode="markers", xaxis=xa, yaxis=ya,
                             marker=dict(color=colors, size=size, symbol="square", line=dict(width=0)),
                             showlegend=False, hoverinfo="skip"))


# ---- (a)
for t, y, c in [(A_T_0, A_Y_0, 0), (A_T_1, A_Y_1, 1), (A_T_2, A_Y_2, 2), (A_T_3, A_Y_3, 3), (A_T_4, A_Y_4, 4)]:
    add_line(1, t, y, A_COLORS[c], 1.7)
add_line(1, A_T_6, A_Y_6, A_COLORS[6], 1.8, "dot")
add_line(1, A_T_5, A_Y_5, A_COLORS[5], 1.8, "dot")
add_dots(1, A_PRE_T, A_PRE_Y, [A_COLORS[i] for i in A_PRE_C])

# ---- (b)
b_sets = [(B_X_0, B_Y_0, B_XL_0, B_YL_0, B_XU_0, B_YU_0),
          (B_X_1, B_Y_1, B_XL_1, B_YL_1, B_XU_1, B_YU_1),
          (B_X_2, B_Y_2, B_XL_2, B_YL_2, B_XU_2, B_YU_2),
          (B_X_3, B_Y_3, B_XL_3, B_YL_3, B_XU_3, B_YU_3),
          (B_X_4, B_Y_4, B_XL_4, B_YL_4, B_XU_4, B_YU_4),
          (B_X_5, B_Y_5, B_XL_5, B_YL_5, B_XU_5, B_YU_5),
          (B_X_6, B_Y_6, B_XL_6, B_YL_6, B_XU_6, B_YU_6)]
for i, (x, y, xl, yl, xu, yu) in enumerate(b_sets):
    add_line(2, x, y, A_COLORS[i], 1.3)
    add_band(2, xl, yl, xu, yu, A_COLORS[i], 0.6 if i == 6 else 1.0)
add_line(2, B_XS_6, B_YS_6, A_COLORS[6], 1.2)

# ---- (c)
for i, y in enumerate([C_Y_0, C_Y_1, C_Y_2, C_Y_3, C_Y_4, C_Y_5]):
    add_line(3, C_T, y, C_COLORS[i], 1.7)
add_dots(3, C_PRE_T, C_PRE_Y, [C_COLORS[i] for i in C_PRE_C])

# ---- (d)
d_mid = [D_Y_0, D_Y_1, D_Y_2, D_Y_3, D_Y_4]
d_low = [(D_T_LOW_0, D_Y_LOW_0), (D_T_LOW, D_Y_LOW_1), (D_T_LOW, D_Y_LOW_2), (D_T_LOW, D_Y_LOW_3), (D_T_LOW, D_Y_LOW_4)]
d_up = [D_Y_UP_0, D_Y_UP_1, D_Y_UP_2, D_Y_UP_3, D_Y_UP_4]
for i in range(5):
    add_line(4, D_T_EARLY + D_T_MID, D_Y_EARLY + d_mid[i], C_COLORS[i], 1.3)
    add_band(4, d_low[i][0], d_low[i][1], D_T_UP, d_up[i], C_COLORS[i])
add_line(4, D_T_EARLY + D_T_5, D_Y_EARLY + D_Y_5, C_COLORS[5], 1.4)
add_band(4, D_T_LOW_5, D_Y_LOW_5, D_T_UP_5, D_Y_UP_5, C_COLORS[5])

# ---- (e)
for i, (t, y) in enumerate([(E_T_0, E_Y_0), (E_T_1, E_Y_1), (E_T_2, E_Y_2), (E_T_3, E_Y_3), (E_T_4, E_Y_4),
                            (E_T_5, E_Y_5), (E_T_6, E_Y_6), (E_T_7, E_Y_7), (E_T_8, E_Y_8)]):
    add_line(5, t, y, E_COLORS[i], 1.7)
add_dots(5, E_PRE_T, E_PRE_Y, [E_COLORS[i] for i in E_PRE_C])

# ---- (f)
add_line(6, F_X_8, F_Y_8, E_COLORS[8], 1.3)
add_band(6, F_XL_8, F_YL_8, F_XU_8, F_YU_8, E_COLORS[8])
add_line(6, F_XS_8, F_YS_8, E_COLORS[8], 1.2)
for i, (x, y) in enumerate([(F_X_0, F_Y_0), (F_X_1, F_Y_1), (F_X_2, F_Y_2), (F_X_3, F_Y_3), (F_X_4, F_Y_4),
                            (F_X_5, F_Y_5), (F_X_6, F_Y_6), (F_X_7, F_Y_7)]):
    add_line(6, x, y, E_COLORS[i], 1.3)

# ---- (g)
for i, y in enumerate([G_Y_0, G_Y_1, G_Y_2, G_Y_3, G_Y_4, G_Y_5]):
    add_line(7, G_T, y, G_COLORS[i], 1.6)
add_line(7, G_T, G_Y_6, G_COLORS[6], 1.8, "dot")
add_line(7, G_T, G_Y_7, G_COLORS[7], 1.8, "dot")
add_dots(7, G_PRE_T, G_PRE_Y, [G_COLORS[i] for i in G_PRE_C])

# ---- (h)
add_band(8, H_XL_7, H_YL_7, H_XU_7, H_YU_7, G_COLORS[7], 0.9)
add_line(8, H_X_7, H_Y_7, G_COLORS[7], 1.6, "dot")
add_line(8, H_X_6, H_Y_6, G_COLORS[6], 1.6, "dot")
add_line(8, H_X_5, H_Y_5, H_SOLID_COLOR, 1.6)
for i, y in enumerate([H_Y_0, H_Y_1, H_Y_2, H_Y_3, H_Y_4]):
    add_line(8, H_X_A, y, G_COLORS[i], 1.6, "dot")

# =====================================================================
LEFT_PX = (155.0, 388.3)
RIGHT_PX = (446.7, 680.0)
ROW_PX = [(13.0, 182.0), (182.0, 351.0), (351.0, 520.0), (520.0, 689.0)]
LEFT_XRANGE = [-3, 81]
RIGHT_XRANGE = [-1, 3]
Y_RANGES = [[-4.22, 0.06], [-0.31, 4.03], [-1.3, 0.1], [-0.3, 4.31],
            [-1.3, 0.1], [-0.28, 4.33], [-4.36, 0.13], [-0.34, 4.3]]
Y_TICKSETS = [(Y_WIDE_TICKS, Y_WIDE_TICKTEXT), (Y_LIFE_TICKS, Y_LIFE_TICKTEXT),
              (Y_NARROW_TICKS, Y_NARROW_TICKTEXT), (Y_LIFE_TICKS, Y_LIFE_TICKTEXT),
              (Y_NARROW_TICKS, Y_NARROW_TICKTEXT), (Y_LIFE_TICKS, Y_LIFE_TICKTEXT),
              (Y_WIDE_TICKS, Y_WIDE_TICKTEXT), (Y_LIFE_TICKS, Y_LIFE_TICKTEXT)]


def fx(px):
    return (px - OFF) / FIG_W


def fy(py):
    return 1 - (py - OFF) / FIG_H


def minor_log(lo, hi):
    return [m * 10.0 ** e for e in range(lo, hi + 1) for m in range(2, 10)]


def base_axis():
    return dict(showline=True, linecolor=AXIS_COLOR, linewidth=1.3, mirror="ticks", ticks="inside",
                ticklen=4, tickwidth=1, tickcolor=AXIS_COLOR, showgrid=False, zeroline=False,
                tickfont=dict(family=FONT, size=14, color=TEXT_COLOR))


layout_axes = {}
for p in range(1, 9):
    left = (p % 2 == 1)
    row = (p - 1) // 2
    xa, ya = ids(p)
    xpx = LEFT_PX if left else RIGHT_PX
    ypx = ROW_PX[row]
    xd = base_axis()
    xd.update(domain=[fx(xpx[0]), fx(xpx[1])], anchor=ya, showticklabels=False)
    if left:
        xd.update(range=LEFT_XRANGE, tickmode="array", tickvals=X_LEFT_TICKS,
                  minor=dict(tickmode="array", tickvals=[10, 30, 50, 70], ticks="inside", ticklen=2,
                             tickcolor=AXIS_COLOR, showgrid=False))
    else:
        xd.update(type="log", range=RIGHT_XRANGE, tickmode="array", tickvals=X_RIGHT_TICKS,
                  minor=dict(tickmode="array", tickvals=minor_log(-1, 2), ticks="inside", ticklen=2,
                             tickcolor=AXIS_COLOR, showgrid=False))
    yd = base_axis()
    tv, tt = Y_TICKSETS[p - 1]
    yr = Y_RANGES[p - 1]
    yd.update(domain=[fy(ypx[1]), fy(ypx[0])], anchor=xa, type="log", range=yr,
              tickmode="array", tickvals=tv, ticktext=tt,
              minor=dict(tickmode="array", tickvals=minor_log(int(yr[0]) - 1, int(yr[1]) + 1), ticks="inside",
                         ticklen=2, tickcolor=AXIS_COLOR, showgrid=False))
    layout_axes["xaxis" if p == 1 else "xaxis%d" % p] = xd
    layout_axes["yaxis" if p == 1 else "yaxis%d" % p] = yd

fig.update_layout(width=FIG_W, height=FIG_H, margin=dict(l=0, r=0, t=0, b=0),
                  paper_bgcolor="white", plot_bgcolor="white", showlegend=False, **layout_axes)

annotations = []
shapes = []


def px_ann(text, x, y, size, xanchor="center", yanchor="middle", angle=0, font=FONT, color=TEXT_COLOR,
           align="center"):
    annotations.append(dict(text=text, x=fx(x), y=fy(y), xref="paper", yref="paper", showarrow=False,
                            xanchor=xanchor, yanchor=yanchor, textangle=angle, align=align,
                            font=dict(family=font, size=size, color=color)))


# bottom tick labels (placed at the axis positions of their tick values)
for v, t in zip(X_LEFT_TICKS, X_LEFT_TICKTEXT):
    xpx = LEFT_PX[0] + (v - LEFT_XRANGE[0]) / (LEFT_XRANGE[1] - LEFT_XRANGE[0]) * (LEFT_PX[1] - LEFT_PX[0])
    px_ann(t, xpx, 706, 14, yanchor="bottom")
for v, t in zip(X_RIGHT_TICKS, X_RIGHT_TICKTEXT):
    xpx = RIGHT_PX[0] + (math.log10(v) - RIGHT_XRANGE[0]) / (RIGHT_XRANGE[1] - RIGHT_XRANGE[0]) * (RIGHT_PX[1] - RIGHT_PX[0])
    px_ann(t, xpx, 706, 14, yanchor="bottom")

# panel labels
LABEL_POS = [(121, 18), (412, 19), (121, 194.5), (412, 188), (121, 362), (412, 358), (121, 526.5), (412, 528)]
for lab, (x, y) in zip(PANEL_LABELS, LABEL_POS):
    px_ann(lab, x, y, 14)

# y titles
for y in [98, 266.5, 435.5, 604.5]:
    px_ann(LEFT_TITLE, 118, y, 13.5, angle=-90)
for y in [92, 267.5, 436, 606]:
    px_ann(RIGHT_TITLE, 414, y, 13.5, angle=-90)
# x titles
px_ann(X_TITLE, 271.7, 712, 13.5)
px_ann(X_TITLE, 563.3, 712, 13.5)


def legend(box, first_y, step, sw_x, text_x, labels, colors, kind="square"):
    shapes.append(dict(type="rect", xref="paper", yref="paper", x0=fx(box[0]), x1=fx(box[1]),
                       y0=fy(box[3]), y1=fy(box[2]), line=dict(color="#8c8c8c", width=1),
                       fillcolor="white", layer="above"))
    for i, (lab, col) in enumerate(zip(labels, colors)):
        yc = first_y + i * step
        if kind == "square":
            half = 4.2
            shapes.append(dict(type="rect", xref="paper", yref="paper", x0=fx(sw_x[0]), x1=fx(sw_x[1]),
                               y0=fy(yc + half), y1=fy(yc - half), line=dict(width=0),
                               fillcolor=col, layer="above"))
        else:
            shapes.append(dict(type="line", xref="paper", yref="paper", x0=fx(sw_x[0]), x1=fx(sw_x[1]),
                               y0=fy(yc), y1=fy(yc), line=dict(color=col, width=1.6), layer="above"))
        px_ann(lab, text_x, yc, 9, xanchor="left", color="#222222")


legend((313.3, 388.3, 80.0, 182.0), 87.5, 14.05, (321.5, 330.0), 334.0, A_LABELS, A_COLORS)
legend((296.7, 388.3, 259.3, 351.0), 267.8, 14.25, (303.0, 312.0), 316.5, C_LABELS, C_COLORS)
legend((297.7, 388.3, 403.3, 520.0), 411.0, 12.45, (306.0, 313.5), 318.0, E_LABELS, E_COLORS)
legend((166.7, 253.3, 569.3, 689.0), 576.8, 14.3, (168.5, 188.5), 191.5, G_LABELS, G_COLORS, kind="line")

# caption: one multi-line text block
px_ann("<br>".join(CAPTION_LINES), 8.5, 725, 11.5, xanchor="left", yanchor="top",
       font=CAPTION_FONT, color="#222222", align="left")

fig.update_layout(annotations=annotations, shapes=shapes)
fig.write_html("out.html")
